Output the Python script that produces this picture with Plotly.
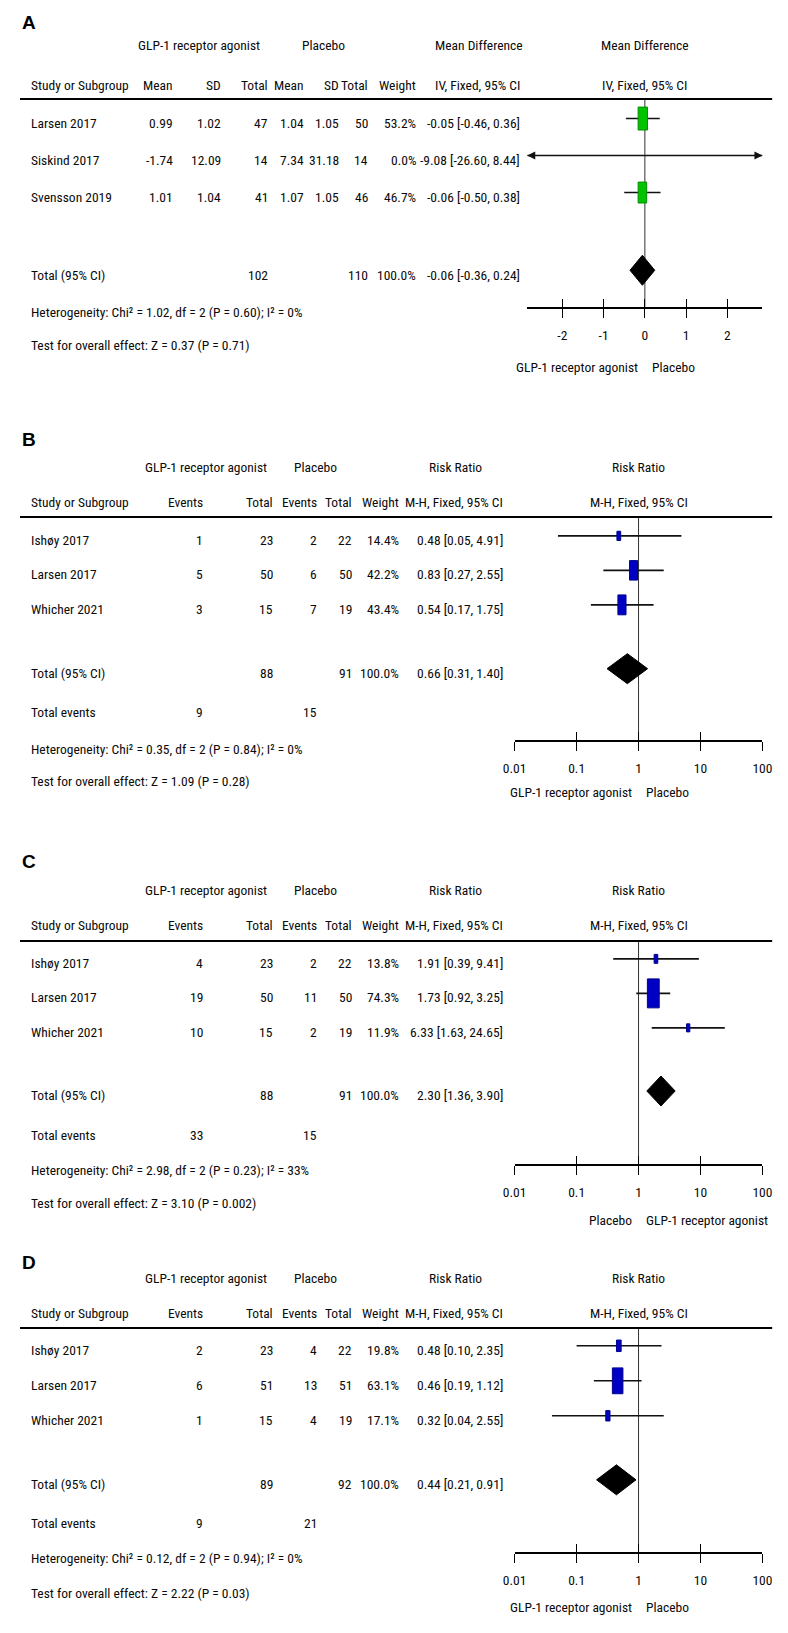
import plotly.graph_objects as go

# the page body keeps its default 8px margin, so the plot div is shrunk and every
# reference pixel position is moved back by that margin
PAGE_MARGIN = 8
W, H = 788 - PAGE_MARGIN, 1633 - 2 * PAGE_MARGIN
FONT = "Roboto Condensed, Liberation Sans Narrow, DejaVu Sans Condensed, sans-serif"
BOLD_FONT = "Liberation Sans, Arial, sans-serif"
FS = 13.5
INK = "#0a0a0a"

# ---- panel A: mean difference
a_studies = ["Larsen 2017", "Siskind 2017", "Svensson 2019"]
a_glp_mean = [0.99, -1.74, 1.01]
a_glp_sd = [1.02, 12.09, 1.04]
a_glp_n = [47, 14, 41]
a_pla_mean = [1.04, 7.34, 1.07]
a_pla_sd = [1.05, 31.18, 1.05]
a_pla_n = [50, 14, 46]
a_weight = [53.2, 0.0, 46.7]
a_md = [-0.05, -9.08, -0.06]
a_lo = [-0.46, -26.60, -0.50]
a_hi = [0.36, 8.44, 0.38]
a_total_n = [102, 110]
a_total = [-0.06, -0.36, 0.24]
a_het = "Heterogeneity: Chi² = 1.02, df = 2 (P = 0.60); I² = 0%"
a_test = "Test for overall effect: Z = 0.37 (P = 0.71)"
a_favours = ["GLP-1 receptor agonist", "Placebo"]
a_ticks = [-2, -1, 0, 1, 2]
a_tick_labels = ["-2", "-1", "0", "1", "2"]

# ---- panels B, C, D: risk ratio
rr_studies = ["Ishøy 2017", "Larsen 2017", "Whicher 2021"]
rr_ticks = [0.01, 0.1, 1, 10, 100]
rr_tick_labels = ["0.01", "0.1", "1", "10", "100"]

b_glp_events = [1, 5, 3]
b_glp_n = [23, 50, 15]
b_pla_events = [2, 6, 7]
b_pla_n = [22, 50, 19]
b_weight = [14.4, 42.2, 43.4]
b_rr = [0.48, 0.83, 0.54]
b_lo = [0.05, 0.27, 0.17]
b_hi = [4.91, 2.55, 1.75]
b_total_n = [88, 91]
b_total = [0.66, 0.31, 1.40]
b_total_events = [9, 15]
b_het = "Heterogeneity: Chi² = 0.35, df = 2 (P = 0.84); I² = 0%"
b_test = "Test for overall effect: Z = 1.09 (P = 0.28)"
b_favours = ["GLP-1 receptor agonist", "Placebo"]

c_glp_events = [4, 19, 10]
c_glp_n = [23, 50, 15]
c_pla_events = [2, 11, 2]
c_pla_n = [22, 50, 19]
c_weight = [13.8, 74.3, 11.9]
c_rr = [1.91, 1.73, 6.33]
c_lo = [0.39, 0.92, 1.63]
c_hi = [9.41, 3.25, 24.65]
c_total_n = [88, 91]
c_total = [2.30, 1.36, 3.90]
c_total_events = [33, 15]
c_het = "Heterogeneity: Chi² = 2.98, df = 2 (P = 0.23); I² = 33%"
c_test = "Test for overall effect: Z = 3.10 (P = 0.002)"
c_favours = ["Placebo", "GLP-1 receptor agonist"]

d_glp_events = [2, 6, 1]
d_glp_n = [23, 51, 15]
d_pla_events = [4, 13, 4]
d_pla_n = [22, 51, 19]
d_weight = [19.8, 63.1, 17.1]
d_rr = [0.48, 0.46, 0.32]
d_lo = [0.10, 0.19, 0.04]
d_hi = [2.35, 1.12, 2.55]
d_total_n = [89, 92]
d_total = [0.44, 0.21, 0.91]
d_total_events = [9, 21]
d_het = "Heterogeneity: Chi² = 0.12, df = 2 (P = 0.94); I² = 0%"
d_test = "Test for overall effect: Z = 2.22 (P = 0.03)"
d_favours = ["GLP-1 receptor agonist", "Placebo"]

# ---- layout of the four panels (pixel of first row, pixels per row, other rows in row units)
GEO = {
    1: dict(letter="A", base=123, R=37, total=4.1, events=None, het=5.1, test=6.0,
            h1=-2.1, h2=-1.03, line=-0.65, axis=5.0, foot=6.6, label=-2.72),
    2: dict(letter="B", base=540, R=34.5, total=3.85, events=5.0, het=6.05, test=7.0,
            h1=-2.12, h2=-1.1, line=-0.67, axis=5.83, foot=7.3, label=-2.9),
    3: dict(letter="C", base=963, R=34.5, total=3.83, events=4.99, het=6.0, test=6.95,
            h1=-2.12, h2=-1.1, line=-0.64, axis=5.86, foot=7.45, label=-2.93),
    4: dict(letter="D", base=1350, R=35, total=3.83, events=4.94, het=5.94, test=6.94,
            h1=-2.06, h2=-1.06, line=-0.63, axis=5.8, foot=7.34, label=-2.51),
}
ROW_TOP, ROW_BOTTOM = -3.05, 7.8
MARK_SHIFT = -0.12
MD_PX, MD_RANGE = (530, 772), [-2.85, 2.85]
RR_PX, RR_RANGE = (517, 772), [-2, 2]
LINE_PX = (7, 782)


def fx(px):
    return max(0.0, (px - PAGE_MARGIN) / W)


def fy(py):
    return 1 - (py - PAGE_MARGIN) / H


fig = go.Figure()
annotations, shapes, axes = [], [], {}


def names(n):
    s = "" if n == 1 else str(n)
    return "x" + s, "y" + s, "xaxis" + s, "yaxis" + s


def text(s, x, y, yref, anchor="left", xref="paper", xshift=0):
    annotations.append(dict(
        text=s, x=fx(x) if xref == "paper" else x, y=y, xref=xref, yref=yref,
        xanchor=anchor, yanchor="middle", showarrow=False, xshift=xshift,
        font=dict(family=FONT, size=FS, color=INK)))


def setup_axes(n, log):
    g = GEO[n]
    xs, ys, xk, yk = names(n)
    top = g["base"] + g["R"] * ROW_TOP
    bot = g["base"] + g["R"] * ROW_BOTTOM
    axes[yk] = dict(domain=[fy(bot), fy(top)], range=[ROW_BOTTOM, ROW_TOP],
                    visible=False, fixedrange=True)
    px, rng = (RR_PX, RR_RANGE) if log else (MD_PX, MD_RANGE)
    pos = fy(g["base"] + g["R"] * g["axis"])
    tv, tt = (rr_ticks, rr_tick_labels) if log else (a_ticks, a_tick_labels)
    common = dict(domain=[fx(px[0]), fx(px[1])], range=rng, type="log" if log else "linear",
                  anchor="free", position=pos, tickvals=tv, ticktext=tt, ticklen=9,
                  tickwidth=1.3, tickcolor="black", showgrid=False, zeroline=False,
                  fixedrange=True)
    axes[xk] = dict(common, showline=True, linecolor="black", linewidth=2, ticks="outside",
                    ticklabelstandoff=6,
                    tickfont=dict(family=FONT, size=FS, color=INK))
    # second axis on top of the first one so the ticks cross the line
    ox, _, oxk, _ = names(n + 4)
    axes[oxk] = dict(common, overlaying=xs, ticks="inside", showline=False,
                     showticklabels=False)
    fig.add_trace(go.Scatter(x=[1 if log else 0], y=[0], xaxis=ox, yaxis=ys, mode="markers",
                             marker=dict(opacity=0), hoverinfo="skip"))
    # header rule
    shapes.append(dict(type="line", xref="paper", yref=ys, x0=fx(LINE_PX[0]),
                       x1=fx(LINE_PX[1]), y0=g["line"], y1=g["line"],
                       line=dict(color="black", width=2)))
    annotations.append(dict(text="<b>%s</b>" % g["letter"], x=0, y=g["label"], xref="paper",
                            yref=ys, xanchor="left", yanchor="middle", showarrow=False,
                            font=dict(family=BOLD_FONT, size=19, color="black")))
    return px, rng


def forest(n, log, est, lo, hi, weight, total, fill, edge, favours, title, method):
    g = GEO[n]
    xs, ys, _, _ = names(n)
    px, rng = setup_axes(n, log)
    ppu = (px[1] - px[0]) / (rng[1] - rng[0])
    null = 1 if log else 0
    lim = [10 ** r for r in rng] if log else rng

    # line of no effect
    fig.add_trace(go.Scatter(x=[null, null], y=[g["line"], g["axis"]], xaxis=xs, yaxis=ys,
                             mode="lines", line=dict(color="#333", width=1), hoverinfo="skip"))
    # confidence intervals, clipped with arrows when they leave the scale
    cx, cy, left, right = [], [], [], []
    for i in range(len(est)):
        y = i + MARK_SHIFT
        a, b = max(lo[i], lim[0]), min(hi[i], lim[1])
        cx += [a, b, None]
        cy += [y, y, None]
        if lo[i] < lim[0]:
            left.append((a, y))
        if hi[i] > lim[1]:
            right.append((b, y))
    fig.add_trace(go.Scatter(x=cx, y=cy, xaxis=xs, yaxis=ys, mode="lines",
                             line=dict(color="#111", width=1.6), hoverinfo="skip"))
    for pts, sym in ((left, "arrow-left"), (right, "arrow-right")):
        if pts:
            fig.add_trace(go.Scatter(x=[p[0] for p in pts], y=[p[1] for p in pts], xaxis=xs,
                                     yaxis=ys, mode="markers", cliponaxis=False,
                                     marker=dict(symbol=sym, size=8, color="#111"),
                                     hoverinfo="skip"))
    # weight boxes, area grows with study weight
    bx, by = [], []
    for i, w in enumerate(weight):
        if w <= 0:
            continue
        h = 1.42 * w ** 0.7
        hw = 0.42 * h / 2 / ppu
        hh = h / 2 / g["R"]
        x0, x1 = (est[i] / 10 ** hw, est[i] * 10 ** hw) if log else (est[i] - hw, est[i] + hw)
        y = i + MARK_SHIFT
        bx += [x0, x1, x1, x0, x0, None]
        by += [y - hh, y - hh, y + hh, y + hh, y - hh, None]
    fig.add_trace(go.Scatter(x=bx, y=by, xaxis=xs, yaxis=ys, mode="lines", fill="toself",
                             fillcolor=fill, line=dict(color=edge, width=1), hoverinfo="skip"))
    # pooled diamond
    dh = 15 / g["R"]
    y = g["total"] + MARK_SHIFT
    fig.add_trace(go.Scatter(x=[total[1], total[0], total[2], total[0], total[1]],
                             y=[y, y - dh, y, y + dh, y], xaxis=xs, yaxis=ys, mode="lines",
                             fill="toself", fillcolor="black", line=dict(color="black", width=1),
                             hoverinfo="skip"))
    # titles over the plot and favours labels under it (x = 0 is the null line on both scales)
    text(title, 0, g["h1"], ys, "center", xs)
    text(method, 0, g["h2"], ys, "center", xs)
    text(favours[0], 0, g["foot"], ys, "right", xs, xshift=-5)
    text(favours[1], 0, g["foot"], ys, "left", xs, xshift=5)


def f2(v):
    return "%.2f" % v


def ci(e, l, h):
    return "%.2f [%.2f, %.2f]" % (e, l, h)


# ---- panel A table
g = GEO[1]
ys = "y"
text("GLP-1 receptor agonist", 192, g["h1"], ys, "center")
text("Placebo", 320, g["h1"], ys, "center")
text("Mean Difference", 480, g["h1"], ys, "center")
heads = [("Study or Subgroup", 17, "left"), ("Mean", 168, "right"), ("SD", 217, "right"),
         ("Total", 265, "right"), ("Mean", 302, "right"), ("SD", 338, "right"),
         ("Total", 368, "right"), ("Weight", 418, "right"), ("IV, Fixed, 95% CI", 525, "right")]
for s, x, anc in heads:
    text(s, x, g["h2"], ys, anc)
for i, name in enumerate(a_studies):
    text(name, 17, i, ys)
    cells = [f2(a_glp_mean[i]), f2(a_glp_sd[i]), str(a_glp_n[i]), f2(a_pla_mean[i]),
             f2(a_pla_sd[i]), str(a_pla_n[i]), "%.1f%%" % a_weight[i],
             ci(a_md[i], a_lo[i], a_hi[i])]
    for s, (_, x, _) in zip(cells, heads[1:]):
        text(s, x, i, ys, "right")
text("Total (95% CI)", 17, g["total"], ys)
text(str(a_total_n[0]), 265, g["total"], ys, "right")
text(str(a_total_n[1]), 368, g["total"], ys, "right")
text("100.0%", 418, g["total"], ys, "right")
text(ci(*a_total), 525, g["total"], ys, "right")
text(a_het, 17, g["het"], ys)
text(a_test, 17, g["test"], ys)
forest(1, False, a_md, a_lo, a_hi, a_weight, a_total, "#00c400", "#009000", a_favours,
       "Mean Difference", "IV, Fixed, 95% CI")

# ---- panels B, C, D tables
RR_DATA = [
    (2, b_glp_events, b_glp_n, b_pla_events, b_pla_n, b_weight, b_rr, b_lo, b_hi, b_total_n,
     b_total, b_total_events, b_het, b_test, b_favours),
    (3, c_glp_events, c_glp_n, c_pla_events, c_pla_n, c_weight, c_rr, c_lo, c_hi, c_total_n,
     c_total, c_total_events, c_het, c_test, c_favours),
    (4, d_glp_events, d_glp_n, d_pla_events, d_pla_n, d_weight, d_rr, d_lo, d_hi, d_total_n,
     d_total, d_total_events, d_het, d_test, d_favours),
]
rr_heads = [("Study or Subgroup", 17, "left"), ("Events", 198, "right"), ("Total", 270, "right"),
            ("Events", 316, "right"), ("Total", 352, "right"), ("Weight", 400, "right"),
            ("M-H, Fixed, 95% CI", 507, "right")]
for (n, ev1, n1, ev2, n2, wt, rr, lo, hi, tot_n, tot, tot_ev, het, test, fav) in RR_DATA:
    g = GEO[n]
    ys = names(n)[1]
    text("GLP-1 receptor agonist", 199, g["h1"], ys, "center")
    text("Placebo", 312, g["h1"], ys, "center")
    text("Risk Ratio", 456, g["h1"], ys, "center")
    for s, x, anc in rr_heads:
        text(s, x, g["h2"], ys, anc)
    for i, name in enumerate(rr_studies):
        text(name, 17, i, ys)
        cells = [str(ev1[i]), str(n1[i]), str(ev2[i]), str(n2[i]), "%.1f%%" % wt[i],
                 ci(rr[i], lo[i], hi[i])]
        for s, (_, x, _) in zip(cells, rr_heads[1:]):
            text(s, x, i, ys, "right")
    text("Total (95% CI)", 17, g["total"], ys)
    text(str(tot_n[0]), 270, g["total"], ys, "right")
    text(str(tot_n[1]), 352, g["total"], ys, "right")
    text("100.0%", 400, g["total"], ys, "right")
    text(ci(*tot), 507, g["total"], ys, "right")
    text("Total events", 17, g["events"], ys)
    text(str(tot_ev[0]), 198, g["events"], ys, "right")
    text(str(tot_ev[1]), 316, g["events"], ys, "right")
    text(het, 17, g["het"], ys)
    text(test, 17, g["test"], ys)
    forest(n, True, rr, lo, hi, wt, tot, "#0000c4", "#00008a", fav,
           "Risk Ratio", "M-H, Fixed, 95% CI")

fig.update_layout(
    width=W, height=H, margin=dict(l=0, r=0, t=0, b=0),
    paper_bgcolor="white", plot_bgcolor="white", showlegend=False,
    annotations=annotations, shapes=shapes, **axes)

fig.write_html("out.html")
